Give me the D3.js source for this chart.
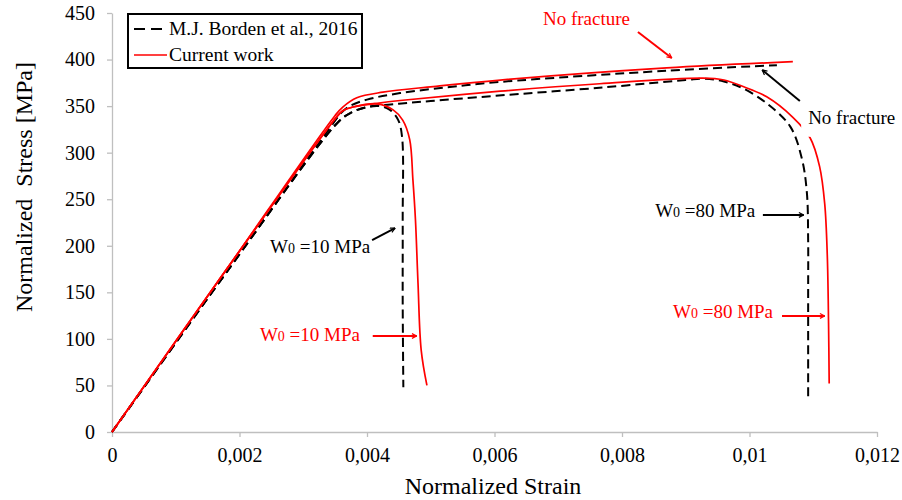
<!DOCTYPE html>
<html>
<head>
<meta charset="utf-8">
<script src="https://cdnjs.cloudflare.com/ajax/libs/d3/7.8.5/d3.min.js"></script>
<style>
  body { margin: 0; background: #fff; }
  svg { display: block; font-family: "Liberation Serif", "Times New Roman", serif; }
</style>
</head>
<body>
<script>
// [strain, stress MPa]
var bordenNoFrac = [[0, 0], [0.0018, 172], [0.00354, 338], [0.0036, 343], [0.00373, 350], [0.004, 357], [0.00452, 364],
  [0.0053, 370.5], [0.00609, 376], [0.0087, 388], [0.01043, 394]];
var bordenW10 = [[0, 0], [0.0018, 172], [0.00355, 333], [0.00375, 343], [0.004, 349], [0.0042, 350], [0.00436, 346],
  [0.00449, 335], [0.00455, 317], [0.00456, 228], [0.00456, 140], [0.00457, 48]];
var bordenW80 = [[0, 0], [0.0018, 172], [0.00355, 333], [0.00375, 343], [0.004, 349], [0.0045, 352.5], [0.005, 355.5],
  [0.006, 361], [0.0077, 370], [0.009, 378], [0.0093, 379.5], [0.0096, 376.5], [0.0099, 369], [0.01027, 353],
  [0.01064, 328], [0.01082, 294], [0.0109, 257], [0.01092, 206], [0.01092, 152], [0.01092, 34]];
var currentNoFrac = [[0, 0], [0.0018, 175], [0.0035, 340], [0.00362, 349], [0.00384, 359], [0.00425, 365], [0.00504, 371],
  [0.00609, 378], [0.0087, 391], [0.01068, 397.7]];
var currentW10 = [[0, 0], [0.0018, 175], [0.00352, 338], [0.00362, 345], [0.00378, 349], [0.00416, 352.5], [0.00441, 346],
  [0.00456, 335], [0.00467, 314], [0.00472, 271], [0.00476, 228], [0.0048, 160], [0.00485, 88], [0.00494, 50]];
var currentW80 = [[0, 0], [0.0018, 175], [0.00352, 338], [0.00362, 345], [0.00378, 349], [0.00416, 353], [0.00452, 356],
  [0.00609, 366], [0.00765, 374], [0.00927, 380], [0.0096, 378], [0.0099, 371], [0.01027, 360], [0.01068, 338], [0.01095, 316],
  [0.0111, 285], [0.01118, 245], [0.01122, 190], [0.01124, 117], [0.01125, 52]];

var xTicks = [0, 0.002, 0.004, 0.006, 0.008, 0.01, 0.012];
var xTickLabels = ["0", "0,002", "0,004", "0,006", "0,008", "0,01", "0,012"];
var yTicks = [0, 50, 100, 150, 200, 250, 300, 350, 400, 450];

var legendLabels = ["M.J. Borden et al., 2016", "Current work"];

var width = 902, height = 500;

var svg = d3.select('body').append('svg')
  .attr('width', width)
  .attr('height', height);

var x = d3.scaleLinear().domain([0, 0.012]).range([112, 877]);
var y = d3.scaleLinear().domain([0, 450]).range([432, 13]);

var defs = svg.append('defs');
['black', 'red'].forEach(function (c) {
  defs.append('marker')
    .attr('id', 'arrow-' + c)
    .attr('viewBox', '0 0 10 10')
    .attr('refX', 9).attr('refY', 5)
    .attr('markerWidth', 6).attr('markerHeight', 6)
    .attr('markerUnits', 'userSpaceOnUse')
    .attr('orient', 'auto')
    .append('path')
    .attr('d', 'M1,1 L9,5 L1,9')
    .attr('fill', 'none')
    .attr('stroke', c === 'red' ? '#ff0000' : '#000')
    .attr('stroke-width', 2);
});

// axes
var xAxis = svg.append('g')
  .attr('transform', 'translate(0,' + y(0) + ')')
  .call(d3.axisBottom(x).tickValues(xTicks).tickSize(5).tickSizeOuter(0)
    .tickFormat(function (d, i) { return xTickLabels[i]; }));
var yAxis = svg.append('g')
  .attr('transform', 'translate(' + x(0) + ',0)')
  .call(d3.axisLeft(y).tickValues(yTicks).tickSize(5).tickSizeOuter(0));

[xAxis, yAxis].forEach(function (g) {
  g.select('.domain').attr('stroke', '#bfbfbf').attr('stroke-width', 1.3);
  g.selectAll('.tick line').attr('stroke', '#bfbfbf').attr('stroke-width', 1.3);
  g.selectAll('.tick text')
    .attr('fill', '#000')
    .style('font-family', '"Liberation Serif", serif')
    .style('font-size', '20px');
});
xAxis.selectAll('.tick text').attr('y', 16);
yAxis.selectAll('.tick text').attr('x', -17);

svg.append('text')
  .attr('x', 493).attr('y', 494)
  .attr('text-anchor', 'middle')
  .style('font-size', '24px')
  .text('Normalized Strain');

svg.append('text')
  .attr('transform', 'translate(32,187) rotate(-90)')
  .attr('text-anchor', 'middle')
  .style('font-size', '24px')
  .style('white-space', 'pre')
  .text('Normalized  Stress [MPa]');

// curves
var line = d3.line()
  .x(function (d) { return x(d[0]); })
  .y(function (d) { return y(d[1]); })
  .curve(d3.curveCatmullRom.alpha(0.5));

[bordenNoFrac, bordenW10, bordenW80].forEach(function (s) {
  svg.append('path')
    .datum(s)
    .attr('d', line)
    .attr('fill', 'none')
    .attr('stroke', '#000')
    .attr('stroke-width', 2)
    .attr('stroke-dasharray', '9,5');
});
[currentNoFrac, currentW10, currentW80].forEach(function (s) {
  svg.append('path')
    .datum(s)
    .attr('d', line)
    .attr('fill', 'none')
    .attr('stroke', '#ff0000')
    .attr('stroke-width', 1.7);
});

// annotations: text anchor point and arrow [from, to], in data units
var annotations = [
  { txt: 'No fracture', color: '#ff0000', at: [0.00676, 437], from: [0.00825, 429.6], to: [0.00878, 401.7], bg: false },
  { txt: 'No fracture', color: '#000', at: [0.01092, 331], from: [0.01079, 355.5], to: [0.0102, 388.8], bg: true },
  { txt: 'W', sub: '0', rest: ' =10 MPa', color: '#000', at: [0.00248, 192], from: [0.00408, 206], to: [0.00444, 219] },
  { txt: 'W', sub: '0', rest: ' =10 MPa', color: '#ff0000', at: [0.00232, 97.7], from: [0.00409, 103.1], to: [0.00478, 103.1] },
  { txt: 'W', sub: '0', rest: ' =80 MPa', color: '#000', at: [0.00852, 231], from: [0.01021, 233.1], to: [0.01085, 233.1] },
  { txt: 'W', sub: '0', rest: ' =80 MPa', color: '#ff0000', at: [0.0088, 122.4], from: [0.01051, 124.6], to: [0.01118, 124.6] }
];

annotations.forEach(function (a) {
  if (a.bg) {
    svg.append('rect')
      .attr('x', x(a.at[0]) - 7).attr('y', y(a.at[1]) - 18)
      .attr('width', 98).attr('height', 31)
      .attr('fill', '#fff');
  }
  var t = svg.append('text')
    .attr('x', x(a.at[0])).attr('y', y(a.at[1]))
    .attr('fill', a.color)
    .style('font-size', '19px');
  t.append('tspan').text(a.txt);
  if (a.sub) {
    t.append('tspan').style('font-size', '14px').text(a.sub);
    t.append('tspan').style('white-space', 'pre').text(a.rest);
  }
  svg.append('line')
    .attr('x1', x(a.from[0])).attr('y1', y(a.from[1]))
    .attr('x2', x(a.to[0])).attr('y2', y(a.to[1]))
    .attr('stroke', a.color)
    .attr('stroke-width', 2)
    .attr('marker-end', 'url(#arrow-' + (a.color === '#000' ? 'black' : 'red') + ')');
});

// legend
var legend = svg.append('g');
legend.append('rect')
  .attr('x', 128).attr('y', 14)
  .attr('width', 234).attr('height', 54)
  .attr('fill', '#fff')
  .attr('stroke', '#000')
  .attr('stroke-width', 2);
legendLabels.forEach(function (lab, i) {
  var ly = 29 + i * 26;
  legend.append('line')
    .attr('x1', 134).attr('x2', 167)
    .attr('y1', ly).attr('y2', ly)
    .attr('stroke', i === 0 ? '#000' : '#ff0000')
    .attr('stroke-width', i === 0 ? 2 : 1.7)
    .attr('stroke-dasharray', i === 0 ? '11,6' : null);
  legend.append('text')
    .attr('x', 169).attr('y', ly + 6)
    .style('font-size', '19.5px')
    .text(lab);
});
</script>
</body>
</html>
